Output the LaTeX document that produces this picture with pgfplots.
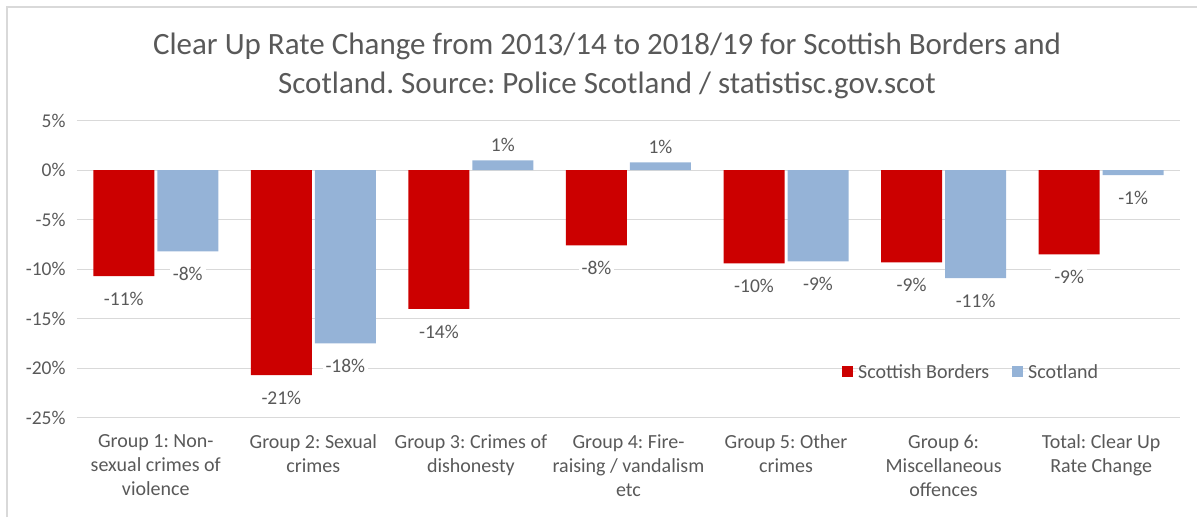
\documentclass[border=0pt]{standalone}
\usepackage{fontspec}
\setmainfont{Carlito}
\usepackage{pgfplots}
\pgfplotsset{compat=1.18}
\definecolor{sbred}{HTML}{CC0000}
\definecolor{scblue}{HTML}{95B3D7}
\definecolor{txt}{HTML}{595959}
\definecolor{gridc}{HTML}{D9D9D9}
\definecolor{framec}{HTML}{D9D9D9}
\frenchspacing
\begin{document}
\begin{tikzpicture}[x=1pt,y=1pt]
% pixel (px,py) -> (px-77, 417.7-py)
\path[use as bounding box] (-77,-99.3) rectangle (1120,417.7);
\draw[framec, line width=1.2pt] (-70,-99.3) -- (-70,410.7) -- (1120,410.7);
\node[txt, align=center, font=\fontsize{31}{39}\selectfont] at (530,352) {Clear Up Rate Change from 2013/14 to 2018/19 for Scottish Borders and\\Scotland. Source: Police Scotland / statistisc.gov.scot};
\begin{axis}[
  at={(0,0)}, anchor=south west,
  scale only axis, width=1103pt, height=297pt,
  ybar=3pt, bar width=61pt,
  xmin=-0.5, xmax=6.5, ymin=-25, ymax=5,
  xtick={0,1,2,3,4,5,6}, xtick style={draw=none},
  xticklabels={{Group 1: Non-\\sexual crimes of\\violence},{Group 2: Sexual\\crimes},{Group 3: Crimes of\\dishonesty},{Group 4: Fire-\\raising / vandalism\\etc},{Group 5: Other\\crimes},{Group 6:\\Miscellaneous\\offences},{Total: Clear Up\\Rate Change}},
  xticklabel style={align=center, text=txt, font=\fontsize{20}{24}\selectfont, anchor=north, yshift=-9pt},
  ytick={-25,-20,-15,-10,-5,0,5},
  yticklabels={-25\%,-20\%,-15\%,-10\%,-5\%,0\%,5\%},
  yticklabel style={text=txt, font=\fontsize{19.5}{23}\selectfont, xshift=-8pt},
  ytick style={draw=none},
  ymajorgrids, grid style={gridc, line width=1.2pt},
  axis line style={draw=none},
  nodes near coords,
  point meta=explicit symbolic,
  visualization depends on=rawy \as \rawy,
  every node near coord/.append style={text=txt, font=\fontsize{19.5}{23}\selectfont, fill=white, inner sep=3pt,
    /utils/exec={\ifdim\rawy pt<0pt \def\myanch{north}\def\mysh{-13pt}\else\def\myanch{south}\def\mysh{5pt}\fi},
    anchor=\myanch, yshift=\mysh},
  legend style={at={(0.6936,0.1539)}, anchor=west, draw=none, fill=none, text=txt, font=\fontsize{20}{23}\selectfont, legend columns=2, inner sep=0pt, /tikz/every even column/.append style={column sep=21pt}},
  legend image code/.code={\fill[#1] (0pt,-5.5pt) rectangle (11pt,5.5pt); \path (0pt,0pt) -- (14pt,0pt);},
  clip=false,
]
\addplot[fill=sbred, draw=none] coordinates {(0,-10.7)[-11\%] (1,-20.7)[-21\%] (2,-14.0)[-14\%] (3,-7.6)[-8\%] (4,-9.4)[-10\%] (5,-9.3)[-9\%] (6,-8.5)[-9\%]};
\addplot[fill=scblue, draw=none] coordinates {(0,-8.2)[-8\%] (1,-17.5)[-18\%] (2,1.0)[1\%] (3,0.8)[1\%] (4,-9.2)[-9\%] (5,-10.9)[-11\%] (6,-0.5)[-1\%]};
\legend{Scottish Borders, Scotland}
\end{axis}
\end{tikzpicture}
\end{document}
